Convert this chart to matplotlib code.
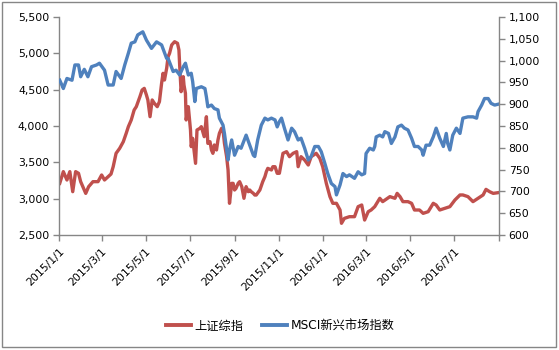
import matplotlib
matplotlib.use("Agg")
import matplotlib.pyplot as plt
from matplotlib.ticker import FuncFormatter, MultipleLocator
from matplotlib.patches import Rectangle
import pandas as pd

plt.rcParams['font.family'] = ['DejaVu Sans', 'Noto Sans CJK SC']

# 上证综指 (left axis)
sh_dates = [
    "2015-01-02", "2015-01-07", "2015-01-12", "2015-01-16", "2015-01-20", "2015-01-24",
    "2015-01-28", "2015-01-31", "2015-02-04", "2015-02-07", "2015-02-11", "2015-02-17",
    "2015-02-24", "2015-03-01", "2015-03-05", "2015-03-10", "2015-03-14", "2015-03-17",
    "2015-03-21", "2015-03-26", "2015-03-31", "2015-04-04", "2015-04-07", "2015-04-11",
    "2015-04-15", "2015-04-18", "2015-04-23", "2015-04-26", "2015-04-29", "2015-05-02",
    "2015-05-04", "2015-05-07", "2015-05-10", "2015-05-13", "2015-05-17", "2015-05-20",
    "2015-05-23", "2015-05-25", "2015-05-27", "2015-05-30", "2015-06-01", "2015-06-03",
    "2015-06-06", "2015-06-10", "2015-06-14", "2015-06-16", "2015-06-17", "2015-06-19",
    "2015-06-22", "2015-06-23", "2015-06-25", "2015-06-26", "2015-06-29", "2015-07-02",
    "2015-07-03", "2015-07-05", "2015-07-09", "2015-07-11", "2015-07-15", "2015-07-17",
    "2015-07-21", "2015-07-24", "2015-07-26", "2015-07-29", "2015-07-31", "2015-08-02",
    "2015-08-04", "2015-08-07", "2015-08-09", "2015-08-11", "2015-08-14", "2015-08-16",
    "2015-08-18", "2015-08-21", "2015-08-23", "2015-08-25", "2015-08-28", "2015-08-30",
    "2015-09-01", "2015-09-03", "2015-09-06", "2015-09-08", "2015-09-11", "2015-09-14",
    "2015-09-17", "2015-09-20", "2015-09-22", "2015-09-24", "2015-09-27", "2015-09-29",
    "2015-10-01", "2015-10-06", "2015-10-10", "2015-10-13", "2015-10-15", "2015-10-17",
    "2015-10-22", "2015-10-24", "2015-10-27", "2015-10-30", "2015-11-02", "2015-11-07",
    "2015-11-12", "2015-11-16", "2015-11-21", "2015-11-26", "2015-11-28", "2015-12-02",
    "2015-12-07", "2015-12-12", "2015-12-16", "2015-12-23", "2015-12-28", "2016-01-01",
    "2016-01-06", "2016-01-11", "2016-01-15", "2016-01-20", "2016-01-25", "2016-01-27",
    "2016-01-31", "2016-02-07", "2016-02-14", "2016-02-19", "2016-02-24", "2016-02-28",
    "2016-03-04", "2016-03-08", "2016-03-13", "2016-03-20", "2016-03-24", "2016-04-03",
    "2016-04-10", "2016-04-13", "2016-04-17", "2016-04-21", "2016-04-28", "2016-05-03",
    "2016-05-07", "2016-05-14", "2016-05-19", "2016-05-26", "2016-06-02", "2016-06-06",
    "2016-06-11", "2016-06-18", "2016-06-25", "2016-07-02", "2016-07-09", "2016-07-13",
    "2016-07-20", "2016-07-27", "2016-08-03", "2016-08-10", "2016-08-14", "2016-08-19",
    "2016-08-24", "2016-08-31",
]
sh_values = [
    3211, 3372, 3257, 3372, 3096, 3372,
    3349, 3234, 3142, 3073, 3165, 3234,
    3234, 3326, 3257, 3303, 3339, 3440,
    3624, 3693, 3784, 3899, 3991, 4083,
    4220, 4266, 4404, 4495, 4518, 4427,
    4358, 4128, 4358, 4312, 4266, 4335,
    4587, 4725, 4633, 4794, 4954, 5000,
    5115, 5160, 5138, 5046, 4839, 4472,
    4679, 4564, 4450, 4083, 4266, 3945,
    3716, 3830, 3486, 3945, 3968, 3991,
    3853, 4128, 3761, 3784, 3670, 3624,
    3739, 3670, 3807, 3899, 3968, 3945,
    3761, 3578, 3395, 2936, 3211, 3211,
    3119, 3142, 3211, 3234, 3165, 3005,
    3165, 3096, 3119, 3096, 3073, 3050,
    3050, 3119, 3234, 3303, 3372, 3417,
    3395, 3440, 3440, 3349, 3349, 3624,
    3647, 3578, 3624, 3647, 3440, 3578,
    3532, 3463, 3578, 3624, 3555, 3440,
    3211, 3028, 2936, 2936, 2844, 2661,
    2729, 2752, 2752, 2890, 2913, 2706,
    2821, 2844, 2890, 3005, 2959, 3028,
    3005, 3073, 3028, 2959, 2959, 2936,
    2844, 2844, 2798, 2821, 2936, 2913,
    2844, 2867, 2890, 2982, 3051, 3051,
    3028, 2959, 3005, 3051, 3128, 3096,
    3073, 3083,
]

# MSCI新兴市场指数 (right axis)
em_dates = [
    "2015-01-02", "2015-01-05", "2015-01-07", "2015-01-12", "2015-01-19", "2015-01-23",
    "2015-01-28", "2015-01-31", "2015-02-05", "2015-02-10", "2015-02-15", "2015-02-22",
    "2015-02-26", "2015-03-05", "2015-03-10", "2015-03-17", "2015-03-21", "2015-03-28",
    "2015-04-02", "2015-04-07", "2015-04-11", "2015-04-16", "2015-04-20", "2015-04-27",
    "2015-05-02", "2015-05-09", "2015-05-16", "2015-05-23", "2015-05-30", "2015-06-01",
    "2015-06-08", "2015-06-12", "2015-06-17", "2015-06-22", "2015-06-25", "2015-06-29",
    "2015-07-03", "2015-07-05", "2015-07-08", "2015-07-10", "2015-07-17", "2015-07-22",
    "2015-07-24", "2015-07-26", "2015-07-31", "2015-08-04", "2015-08-09", "2015-08-11",
    "2015-08-16", "2015-08-18", "2015-08-23", "2015-08-25", "2015-08-28", "2015-09-01",
    "2015-09-06", "2015-09-10", "2015-09-17", "2015-09-22", "2015-09-27", "2015-09-29",
    "2015-10-03", "2015-10-08", "2015-10-13", "2015-10-17", "2015-10-22", "2015-10-27",
    "2015-10-30", "2015-11-02", "2015-11-05", "2015-11-09", "2015-11-14", "2015-11-19",
    "2015-11-23", "2015-11-28", "2015-12-02", "2015-12-07", "2015-12-12", "2015-12-16",
    "2015-12-21", "2015-12-26", "2015-12-30", "2016-01-04", "2016-01-08", "2016-01-13",
    "2016-01-18", "2016-01-20", "2016-01-25", "2016-01-29", "2016-02-03", "2016-02-07",
    "2016-02-14", "2016-02-19", "2016-02-24", "2016-02-28", "2016-03-01", "2016-03-06",
    "2016-03-11", "2016-03-13", "2016-03-15", "2016-03-20", "2016-03-24", "2016-03-27",
    "2016-04-01", "2016-04-03", "2016-04-05", "2016-04-10", "2016-04-14", "2016-04-19",
    "2016-04-23", "2016-04-28", "2016-05-03", "2016-05-07", "2016-05-12", "2016-05-17",
    "2016-05-19", "2016-05-23", "2016-05-28", "2016-06-02", "2016-06-06", "2016-06-11",
    "2016-06-16", "2016-06-20", "2016-06-22", "2016-06-25", "2016-06-29", "2016-07-04",
    "2016-07-09", "2016-07-13", "2016-07-20", "2016-07-27", "2016-08-01", "2016-08-03",
    "2016-08-08", "2016-08-12", "2016-08-17", "2016-08-21", "2016-08-26", "2016-08-31",
]
em_values = [
    955, 944, 936, 959, 955, 990,
    990, 963, 980, 963, 986, 990,
    994, 978, 944, 944, 975, 959,
    990, 1017, 1040, 1043, 1059, 1066,
    1047, 1028, 1043, 1036, 1005, 1005,
    975, 978, 967, 986, 994, 967,
    971, 952, 906, 936, 940, 936,
    917, 894, 898, 890, 887, 868,
    852, 833, 772, 795, 818, 783,
    803, 799, 829, 806, 783, 780,
    818, 852, 868, 864, 868, 864,
    848, 860, 868, 845, 818, 845,
    837, 818, 822, 799, 772, 780,
    803, 803, 791, 764, 741, 718,
    711, 692, 715, 741, 734, 738,
    730, 745, 738, 741, 787, 799,
    795, 803, 825, 829, 825, 837,
    833, 822, 810, 825, 848, 852,
    845, 841, 822, 803, 803, 795,
    783, 806, 806, 825, 845, 822,
    803, 833, 810, 795, 829, 845,
    833, 868, 871, 871, 868, 883,
    898, 913, 913, 902, 898, 900,
]

tick_dates = ["2015-01-01", "2015-03-01", "2015-05-01", "2015-07-01", "2015-09-01",
              "2015-11-01", "2016-01-01", "2016-03-01", "2016-05-01", "2016-07-01",
              "2016-09-01"]
tick_labels = ["2015/1/1", "2015/3/1", "2015/5/1", "2015/7/1", "2015/9/1",
               "2015/11/1", "2016/1/1", "2016/3/1", "2016/5/1", "2016/7/1", ""]

red = "#C0504D"
blue = "#4F81BD"
axis_gray = "#868686"

fig = plt.figure(figsize=(5.59, 3.5), dpi=100)
ax = fig.add_axes([59 / 559, 1 - 235 / 350, 440 / 559, 218 / 350])
ax2 = ax.twinx()

l1, = ax.plot(pd.to_datetime(sh_dates), sh_values, color=red, lw=2.4,
              solid_joinstyle="round", label="上证综指")
l2, = ax2.plot(pd.to_datetime(em_dates), em_values, color=blue, lw=2.4,
               solid_joinstyle="round", label="MSCI新兴市场指数")
ax2.set_zorder(ax.get_zorder() + 1)
ax2.patch.set_visible(False)

ax.set_xlim(pd.Timestamp("2015-01-01"), pd.Timestamp("2016-09-01"))
ax.set_ylim(2500, 5500)
ax2.set_ylim(600, 1100)
ax.yaxis.set_major_locator(MultipleLocator(500))
ax2.yaxis.set_major_locator(MultipleLocator(50))
fmt = FuncFormatter(lambda v, p: f"{int(round(v)):,}")
ax.yaxis.set_major_formatter(fmt)
ax2.yaxis.set_major_formatter(fmt)

ax.set_xticks(pd.to_datetime(tick_dates))
ax.set_xticklabels(tick_labels, rotation=45, ha="right", rotation_mode="anchor")

for a in (ax, ax2):
    for s in a.spines.values():
        s.set_color(axis_gray)
        s.set_linewidth(1.0)
    a.spines["top"].set_visible(False)
    a.tick_params(colors=axis_gray, labelcolor="black", labelsize=7.8,
                  length=4, width=1.0, direction="out")
ax.spines["right"].set_visible(False)
ax2.spines["left"].set_visible(False)
ax2.spines["bottom"].set_visible(False)
ax.tick_params(axis="x", pad=4)
ax.tick_params(axis="y", pad=3)
ax2.tick_params(axis="y", pad=3)

leg = fig.legend(handles=[l1, l2], loc="center", bbox_to_anchor=(280 / 559, 1 - 326 / 350),
                 ncol=2, frameon=False, handlelength=2.1,
                 handletextpad=0.25, columnspacing=1.5,
                 prop={"family": ["DejaVu Sans", "Noto Sans CJK SC"], "size": 8.8})
for h in leg.get_lines():
    h.set_linewidth(2.8)

fig.patches.append(Rectangle((2 / 559, 3 / 350), 554 / 559, 345 / 350,
                             transform=fig.transFigure, fill=False,
                             edgecolor=axis_gray, lw=1.0))

fig.savefig("out.png", dpi=100)
